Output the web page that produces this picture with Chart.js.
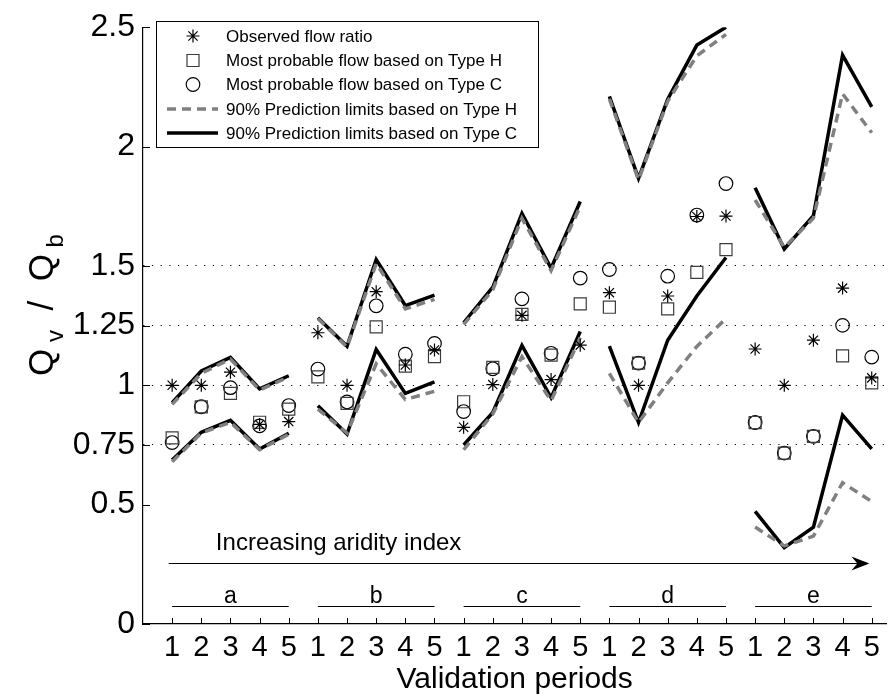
<!DOCTYPE html>
<html>
<head>
<meta charset="utf-8">
<script src="https://cdn.jsdelivr.net/npm/chart.js@4.4.1/dist/chart.umd.min.js"></script>
<style>
  html, body { margin: 0; padding: 0; background: #fff; }
</style>
</head>
<body>
<canvas id="chart" width="896" height="699"></canvas>
<script>
// --- data ---
const periods = [1, 2, 3, 4, 5, 6, 7, 8, 9, 10, 11, 12, 13, 14, 15, 16, 17, 18, 19, 20, 21, 22, 23, 24, 25];
const periodLabels = ["1", "2", "3", "4", "5", "1", "2", "3", "4", "5", "1", "2", "3", "4", "5", "1", "2", "3", "4", "5", "1", "2", "3", "4", "5"];
const groupNames = ["a", "b", "c", "d", "e"];
const yTicks = [0, 0.5, 0.75, 1, 1.25, 1.5, 2, 2.5];
const dottedAt = [0.75, 1, 1.25, 1.5];

const observed = [1.0, 1.0, 1.055, 0.836, 0.848, 1.22, 1.0, 1.392, 1.085, 1.148, 0.824, 1.003, 1.293, 1.024, 1.168, 1.388, 1.0, 1.374, 1.707, 1.709, 1.152, 1.0, 1.189, 1.407, 1.031];
const probableH = [0.78, 0.91, 0.966, 0.845, 0.9, 1.035, 0.924, 1.245, 1.08, 1.12, 0.931, 1.075, 1.297, 1.126, 1.341, 1.327, 1.093, 1.32, 1.473, 1.568, 0.844, 0.716, 0.786, 1.123, 1.01];
const probableC = [0.76, 0.91, 0.99, 0.83, 0.915, 1.068, 0.93, 1.333, 1.13, 1.175, 0.89, 1.069, 1.362, 1.134, 1.449, 1.485, 1.093, 1.457, 1.713, 1.845, 0.844, 0.716, 0.786, 1.251, 1.118];
const upperH = [0.92, 1.05, 1.11, 0.98, 1.035, 1.28, 1.16, 1.51, 1.32, 1.36, 1.255, 1.4, 1.7, 1.48, 1.75, 2.2, 1.86, 2.19, 2.38, 2.47, 1.776, 1.578, 1.7, 2.221, 2.058];
const lowerH = [0.68, 0.8, 0.845, 0.73, 0.795, 0.9, 0.8, 1.09, 0.94, 0.975, 0.73, 0.88, 1.12, 0.935, 1.2, 1.05, 0.844, 1.01, 1.163, 1.279, 0.406, 0.327, 0.368, 0.592, 0.513];
const upperC = [0.927, 1.06, 1.117, 0.985, 1.04, 1.283, 1.163, 1.527, 1.334, 1.378, 1.262, 1.411, 1.72, 1.49, 1.77, 2.21, 1.867, 2.198, 2.425, 2.5, 1.827, 1.571, 1.711, 2.383, 2.166];
const lowerC = [0.687, 0.803, 0.853, 0.733, 0.799, 0.914, 0.796, 1.15, 0.966, 1.014, 0.75, 0.886, 1.167, 0.948, 1.225, 1.164, 0.844, 1.189, 1.374, 1.535, 0.472, 0.32, 0.406, 0.875, 0.734];

const FONT = "'Liberation Sans', Arial, Helvetica, sans-serif";
Chart.defaults.font.family = FONT;
Chart.defaults.color = "#000";

function toPoints(values) {
  return values.map((v, i) => ({ x: periods[i], y: v }));
}

// lines are broken between the five basin groups
function groupOf(x) {
  return Math.floor((x - 1) / 5);
}
function segColor(color) {
  return (ctx) => groupOf(ctx.p0.parsed.x) === groupOf(ctx.p1.parsed.x) ? color : "rgba(0,0,0,0)";
}

function limitLine(label, values, color, dash, order, inLegend) {
  return {
    label: label,
    data: toPoints(values),
    borderColor: color,
    borderWidth: 3.5,
    borderDash: dash,
    borderJoinStyle: "miter",
    pointRadius: 0,
    tension: 0,
    order: order,
    inLegend: inLegend,
    segment: { borderColor: segColor(color) }
  };
}

function markers(label, values, style, radius, color) {
  return {
    label: label,
    data: toPoints(values),
    showLine: false,
    pointStyle: style,
    pointRadius: radius,
    pointBorderColor: color,
    pointBackgroundColor: "rgba(0,0,0,0)",
    pointBorderWidth: 1.2,
    order: 0,
    inLegend: true
  };
}

const datasets = [
  markers("Observed flow ratio", observed, "star", 6.5, "#000"),
  markers("Most probable flow based on Type H", probableH, "rect", 8.5, "#3c3c3c"),
  markers("Most probable flow based on Type C", probableC, "circle", 6.8, "#000"),
  limitLine("90% Prediction limits based on Type H", upperH, "#808080", [9, 6], 1, true),
  limitLine("90% Prediction limits based on Type C", upperC, "#000", [], 2, true),
  limitLine("lowerH", lowerH, "#808080", [9, 6], 1, false),
  limitLine("lowerC", lowerC, "#000", [], 2, false)
];

// legend box, annotations, inward tick marks and the y title
const extras = {
  id: "extras",
  afterDraw(chart) {
    const { ctx, chartArea, scales: { x, y } } = chart;
    ctx.save();

    // inward ticks
    ctx.strokeStyle = "#000";
    ctx.lineWidth = 1;
    yTicks.forEach((v) => {
      const py = Math.round(y.getPixelForValue(v)) + 0.5;
      ctx.beginPath();
      ctx.moveTo(chartArea.left, py);
      ctx.lineTo(chartArea.left + 7, py);
      ctx.stroke();
    });
    periods.forEach((p) => {
      const px = Math.round(x.getPixelForValue(p)) + 0.5;
      ctx.beginPath();
      ctx.moveTo(px, chartArea.bottom);
      ctx.lineTo(px, chartArea.bottom - 6);
      ctx.stroke();
    });

    // aridity arrow
    const ay = Math.round(y.getPixelForValue(0.257)) + 0.5;
    const ax0 = x.getPixelForValue(0.88);
    const ax1 = x.getPixelForValue(24.92);
    ctx.lineWidth = 1.2;
    ctx.beginPath();
    ctx.moveTo(ax0, ay);
    ctx.lineTo(ax1 - 8, ay);
    ctx.stroke();
    ctx.fillStyle = "#000";
    ctx.beginPath();
    ctx.moveTo(ax1, ay);
    ctx.lineTo(ax1 - 18, ay - 7);
    ctx.lineTo(ax1 - 12, ay);
    ctx.lineTo(ax1 - 18, ay + 7);
    ctx.closePath();
    ctx.fill();

    ctx.font = "24px " + FONT;
    ctx.textAlign = "left";
    ctx.textBaseline = "alphabetic";
    ctx.fillText("Increasing aridity index", x.getPixelForValue(2.5), y.getPixelForValue(0.31));

    // group labels a-e with underlines
    ctx.font = "23px " + FONT;
    ctx.textAlign = "center";
    const uy = Math.round(y.getPixelForValue(0.075)) + 0.5;
    groupNames.forEach((g, i) => {
      const first = i * 5 + 1;
      const last = first + 4;
      ctx.beginPath();
      ctx.moveTo(x.getPixelForValue(first), uy);
      ctx.lineTo(x.getPixelForValue(last), uy);
      ctx.stroke();
      ctx.fillText(g, x.getPixelForValue(first + 2), y.getPixelForValue(0.087));
    });

    // y axis title Q_v / Q_b, rotated
    ctx.save();
    ctx.translate(53, 305);
    ctx.rotate(-Math.PI / 2);
    const big = "35px " + FONT;
    const small = "24px " + FONT;
    const parts = [["Q", big, 0], [" v", small, 10], ["  /  ", big, 0], ["Q", big, 0], [" b", small, 10]];
    let total = 0;
    parts.forEach((p) => { ctx.font = p[1]; total += ctx.measureText(p[0]).width; });
    let cx = -total / 2;
    ctx.textAlign = "left";
    parts.forEach((p) => {
      ctx.font = p[1];
      ctx.fillText(p[0], cx, p[2]);
      cx += ctx.measureText(p[0]).width;
    });
    ctx.restore();

    // legend
    const box = { left: 156.5, top: 21.5, right: 538.5, bottom: 147.5 };
    ctx.fillStyle = "#fff";
    ctx.fillRect(box.left, box.top, box.right - box.left, box.bottom - box.top);
    ctx.strokeStyle = "#000";
    ctx.lineWidth = 1;
    ctx.strokeRect(box.left, box.top, box.right - box.left, box.bottom - box.top);
    const rows = [36, 60.5, 84.5, 109, 133];
    ctx.font = "17px " + FONT;
    ctx.textAlign = "left";
    ctx.textBaseline = "middle";
    let r = 0;
    chart.data.datasets.forEach((ds) => {
      if (!ds.inLegend) return;
      const ry = rows[r++];
      ctx.save();
      if (ds.showLine === false) {
        ctx.strokeStyle = ds.pointBorderColor;
        ctx.fillStyle = "rgba(0,0,0,0)";
        ctx.lineWidth = ds.pointBorderWidth;
        Chart.helpers.drawPoint(ctx, { pointStyle: ds.pointStyle, radius: ds.pointRadius, borderWidth: ds.pointBorderWidth, rotation: 0 }, 193, ry);
      } else {
        ctx.strokeStyle = ds.borderColor;
        ctx.lineWidth = ds.borderWidth;
        ctx.setLineDash(ds.borderDash);
        ctx.beginPath();
        ctx.moveTo(167, ry);
        ctx.lineTo(218, ry);
        ctx.stroke();
      }
      ctx.restore();
      ctx.fillStyle = "#000";
      ctx.fillText(ds.label, 226, ry + 1);
    });

    ctx.restore();
  }
};

new Chart(document.getElementById("chart"), {
  type: "line",
  data: { datasets: datasets },
  options: {
    responsive: false,
    animation: false,
    events: [],
    layout: { padding: { top: 20, right: 1, left: 0, bottom: 0 } },
    plugins: { legend: { display: false }, tooltip: { enabled: false } },
    scales: {
      x: {
        type: "linear",
        min: 0,
        max: 25.5,
        afterFit: (s) => { s.height = 75; },
        afterBuildTicks: (s) => { s.ticks = periods.map((p) => ({ value: p })); },
        grid: { display: false },
        border: { display: true, color: "#000", width: 1.2 },
        ticks: {
          autoSkip: false,
          maxRotation: 0,
          padding: 1,
          font: { size: 29, lineHeight: 1 },
          color: "#000",
          callback: (v) => periodLabels[v - 1]
        },
        title: {
          display: true,
          text: "Validation periods",
          font: { size: 30, lineHeight: 1 },
          color: "#000",
          padding: { top: 0, bottom: 4 }
        }
      },
      y: {
        type: "linear",
        min: 0,
        max: 2.5,
        afterFit: (s) => { s.width = 143; },
        afterBuildTicks: (s) => { s.ticks = yTicks.map((v) => ({ value: v })); },
        grid: {
          drawTicks: false,
          lineWidth: 1,
          color: (c) => (c.tick && dottedAt.includes(c.tick.value)) ? "#000" : "rgba(0,0,0,0)"
        },
        border: { display: true, color: "#000", width: 1.2, dash: [1.2, 7.5] },
        ticks: {
          padding: 8,
          font: { size: 32 },
          color: "#000",
          callback: (v) => String(v)
        }
      }
    }
  },
  plugins: [extras]
});
</script>
</body>
</html>
